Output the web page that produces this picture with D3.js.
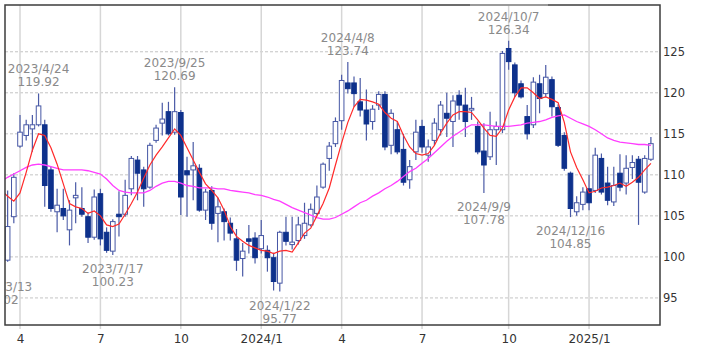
<!DOCTYPE html>
<html>
  <head>
    <meta charset="utf-8">
    <title>Weekly candlestick chart</title>
    <script src="https://d3js.org/d3.v7.min.js"></script>
    <style>
      body { margin: 0; background: #fff; }
      text { font-family: "DejaVu Sans", Verdana, sans-serif; font-size: 12px; }
    </style>
  </head>
  <body>
    <div id="chart"></div>
    <script>
      // first weekly candle (Monday), one candle per week after that
      var firstWeek = "2023-03-13";

      var opens = [104.0, 99.6, 104.9, 113.5, 114.8, 115.6, 116.1, 116.1, 110.6, 105.5,
        105.9, 103.3, 107.2, 105.9, 104.9, 102.4, 107.7, 103.0, 100.7, 105.2,
        105.2, 108.3, 111.8, 110.6, 108.5, 114.2, 116.3, 117.7, 115.2, 117.6,
        110.5, 110.6, 110.8, 105.7, 108.1, 105.3, 105.5, 104.1, 102.2, 99.8,
        102.2, 102.3, 101.0, 100.8, 99.9, 96.8, 103.0, 101.5, 102.0, 102.6,
        103.9, 105.3, 108.5, 112.0, 113.8, 116.6, 121.2, 121.2, 118.9, 117.9,
        116.5, 118.5, 119.8, 113.6, 115.5, 113.1, 109.4, 112.8, 115.9, 112.4,
        114.2, 115.5, 117.5, 116.5, 119.7, 118.5, 117.9, 115.9, 112.9, 112.2,
        115.5, 115.5, 125.4, 123.4, 121.1, 117.1, 116.1, 121.1, 119.9, 121.6,
        118.2, 114.8, 110.2, 105.5, 106.4, 108.3, 108.1, 112.0, 109.0, 106.7,
        110.2, 109.0, 110.9, 111.9, 107.9, 111.9];

      var highs = [105.0, 108.1, 110.2, 117.3, 116.7, 117.3, 119.92, 116.7, 111.0, 108.3,
        108.3, 106.9, 109.1, 108.5, 105.4, 108.2, 108.3, 103.6, 104.6, 108.0,
        109.4, 112.3, 112.3, 111.0, 113.9, 116.1, 118.8, 118.9, 120.69, 117.9,
        112.2, 114.0, 111.3, 108.3, 108.6, 107.2, 105.9, 104.8, 103.4, 101.7,
        103.9, 103.0, 104.5, 101.4, 100.5, 103.2, 104.9, 104.9, 104.9, 106.6,
        106.5, 108.7, 111.5, 114.0, 117.0, 122.2, 123.74, 122.0, 121.8, 120.4,
        118.5, 120.2, 120.2, 118.0, 116.5, 115.0, 111.8, 116.7, 116.7, 114.3,
        116.9, 119.0, 120.0, 119.7, 120.3, 120.6, 119.5, 116.5, 116.3, 117.7,
        116.5, 125.1, 126.34, 123.7, 121.5, 118.5, 121.9, 122.2, 123.4, 122.0,
        118.6, 115.2, 110.4, 107.4, 108.5, 110.0, 113.3, 112.6, 111.0, 111.0,
        112.5, 112.4, 112.4, 112.3, 112.4, 114.6];

      var lows = [98.02, 99.4, 104.1, 113.3, 114.2, 112.8, 115.9, 106.1, 105.5, 103.0,
        104.5, 101.4, 104.1, 104.9, 101.7, 102.1, 101.4, 100.5, 100.23, 102.5,
        104.9, 107.5, 106.9, 106.1, 108.3, 113.9, 114.8, 114.8, 114.9, 105.1,
        104.9, 106.9, 105.5, 104.5, 103.3, 101.8, 102.0, 102.0, 98.3, 97.6,
        100.4, 99.2, 100.4, 98.2, 95.9, 95.77, 101.4, 100.9, 101.5, 102.2,
        103.7, 105.1, 108.3, 110.5, 113.4, 115.5, 119.9, 118.3, 117.1, 114.2,
        115.5, 117.9, 113.0, 112.5, 112.5, 108.7, 108.3, 111.8, 112.7, 111.6,
        113.6, 114.8, 114.6, 113.4, 116.7, 114.6, 116.7, 112.5, 107.78, 111.8,
        111.2, 115.1, 122.8, 119.5, 119.3, 114.3, 115.7, 117.5, 119.5, 117.1,
        113.4, 110.5, 104.85, 105.0, 105.7, 105.7, 107.8, 107.6, 106.3, 106.2,
        108.0, 107.6, 109.5, 103.9, 107.7, 111.7];

      var closes = [99.6, 103.7, 109.7, 115.2, 116.1, 116.1, 118.4, 108.7, 105.9, 106.3,
        105.0, 105.7, 107.5, 105.2, 102.4, 107.3, 102.2, 100.8, 104.3, 104.9,
        107.5, 112.0, 110.2, 108.3, 113.6, 115.7, 116.8, 115.0, 117.7, 107.3,
        110.0, 111.1, 105.7, 107.9, 104.1, 106.1, 104.3, 102.9, 99.6, 100.7,
        101.9, 99.9, 102.6, 99.9, 97.0, 103.0, 101.9, 101.8, 103.9, 104.1,
        105.8, 107.3, 111.3, 113.5, 116.5, 121.5, 120.5, 119.9, 117.9, 116.2,
        118.0, 119.8, 113.4, 117.5, 112.8, 109.1, 111.0, 115.2, 113.4, 113.4,
        116.3, 118.5, 116.9, 119.0, 118.5, 116.5, 118.1, 112.8, 111.2, 115.5,
        115.9, 124.8, 123.8, 120.0, 119.5, 115.0, 121.3, 119.3, 121.9, 118.3,
        113.6, 110.8, 105.9, 106.6, 107.9, 106.6, 112.4, 107.9, 106.9, 108.7,
        108.5, 110.8, 111.5, 109.1, 112.0, 113.8];

      // short moving average (red)
      var maShort = [108.1, 107.4, 106.8, 107.8, 110.3, 113.0, 115.0, 114.8, 113.3, 111.3,
        108.9, 106.5, 106.1, 105.9, 105.3, 105.6, 105.0, 103.9, 103.7, 104.0,
        105.2, 106.5, 107.9, 109.6, 111.2, 112.4, 113.4, 114.5, 115.6, 114.8,
        113.3, 111.8, 110.3, 108.9, 108.1, 107.2, 105.7, 103.7, 102.5, 101.9,
        101.4, 101.1, 100.8, 100.7, 100.4, 100.7, 100.8, 100.6, 101.7, 102.9,
        103.5, 105.0, 106.5, 108.4, 111.2, 113.9, 116.4, 118.3, 119.2, 119.1,
        118.9, 118.6, 117.6, 116.9, 116.5, 114.8, 113.4, 112.6, 112.4, 112.6,
        113.6, 115.1, 116.3, 117.3, 117.7, 117.7, 117.6, 116.7, 115.7, 114.8,
        114.7, 115.7, 117.9, 119.5, 120.6, 120.6, 120.0, 119.3, 119.5, 119.2,
        118.8, 116.4, 112.8, 110.9, 109.4, 107.8, 108.0, 108.4, 108.5, 108.7,
        109.0, 108.6, 109.1, 109.7, 110.6, 111.4];

      // long moving average (magenta)
      var maLong = [109.2, 109.7, 110.1, 110.5, 110.9, 111.2, 111.3, 111.2, 111.0, 110.8,
        110.6, 110.6, 110.6, 110.6, 110.5, 110.3, 110.1, 109.5, 108.7, 108.1,
        107.9, 107.8, 107.8, 107.8, 108.1, 108.6, 109.0, 109.2, 109.2, 109.0,
        108.7, 108.6, 108.4, 108.4, 108.4, 108.3, 108.3, 108.1, 108.0, 107.9,
        107.8, 107.6, 107.5, 107.3, 107.0, 106.8, 106.4, 106.0, 105.7, 105.4,
        105.1, 104.8, 104.6, 104.6, 104.8, 105.2, 105.6, 106.1, 106.6, 106.9,
        107.4, 107.8, 108.3, 108.7, 109.2, 109.8, 110.4, 110.8, 111.4, 112.0,
        112.7, 113.4, 114.1, 114.7, 115.2, 115.7, 116.1, 116.1, 116.1, 116.0,
        115.9, 115.9, 115.9, 116.0, 116.1, 116.3, 116.4, 116.5, 116.7, 117.0,
        117.2, 117.3, 116.9, 116.5, 116.2, 115.9, 115.5, 115.0, 114.5, 114.2,
        114.0, 113.9, 113.8, 113.7, 113.7, 113.6];

      var tickDates = ["2023-04-03", "2023-07-03", "2023-10-02", "2024-01-01",
        "2024-04-01", "2024-07-01", "2024-10-07", "2025-01-06"];
      var tickLabels = ["4", "7", "10", "2024/1", "4", "7", "10", "2025/1"];
      var yTicks = [95, 100, 105, 110, 115, 120, 125];

      var highMarks = ["2023-04-24", "2023-09-25", "2024-04-08", "2024-10-07"];
      var lowMarks = ["2023-03-13", "2023-07-17", "2024-01-22", "2024-09-09", "2024-12-16"];

      var width = 709, height = 354;
      var pLeft = 5, pRight = 660, pTop = 5, pBottom = 325;

      var parse = d3.timeParse("%Y-%m-%d");
      var fmt = d3.timeFormat("%Y/%-m/%-d");
      var start = parse(firstWeek);

      var data = opens.map(function (o, i) {
        return {
          date: d3.timeWeek.offset(start, i),
          open: o, high: highs[i], low: lows[i], close: closes[i],
          ma1: maShort[i], ma2: maLong[i]
        };
      });
      var last = data[data.length - 1].date;

      var x = d3.scaleTime()
        .domain([start, last])
        .range([1.45, 650.9]);

      var y = d3.scaleLinear()
        .domain([91.7, 130.7])
        .range([pBottom, pTop]);

      var svg = d3.select("#chart").append("svg")
        .attr("width", width)
        .attr("height", height);

      svg.append("defs").append("clipPath")
        .attr("id", "plot")
        .append("rect")
        .attr("x", pLeft).attr("y", pTop)
        .attr("width", pRight - pLeft).attr("height", pBottom - pTop);

      // grid
      var grid = svg.append("g");
      grid.selectAll(".hg")
        .data(yTicks)
        .enter().append("line")
        .attr("x1", pLeft).attr("x2", pRight)
        .attr("y1", function (d) { return y(d); })
        .attr("y2", function (d) { return y(d); })
        .attr("stroke", "#c4c4c4")
        .attr("stroke-dasharray", "3,2");

      grid.selectAll(".vg")
        .data(tickDates)
        .enter().append("line")
        .attr("x1", function (d) { return x(parse(d)); })
        .attr("x2", function (d) { return x(parse(d)); })
        .attr("y1", pTop).attr("y2", pBottom + 4)
        .attr("stroke", "#d6d6d6")
        .attr("stroke-width", 1.5);

      // axes labels
      var xAxis = d3.axisBottom(x)
        .tickValues(tickDates.map(parse))
        .tickFormat(function (d, i) { return tickLabels[i]; })
        .tickSize(0)
        .tickPadding(9);
      var gx = svg.append("g")
        .attr("transform", "translate(0," + pBottom + ")")
        .call(xAxis);
      gx.select(".domain").remove();
      gx.selectAll("text")
        .attr("fill", "#333")
        .style("font-size", "12px")
        .style("font-family", "DejaVu Sans");

      var yAxis = d3.axisRight(y)
        .tickValues(yTicks)
        .tickSize(0)
        .tickPadding(3);
      var gy = svg.append("g")
        .attr("transform", "translate(" + pRight + ",0)")
        .call(yAxis);
      gy.select(".domain").remove();
      gy.selectAll("text")
        .attr("fill", "#333")
        .style("font-size", "11.5px")
        .style("font-family", "DejaVu Sans");

      var plot = svg.append("g").attr("clip-path", "url(#plot)");

      // candles
      var bw = 4.6;
      var candles = plot.selectAll(".candle")
        .data(data)
        .enter().append("g");

      candles.append("line")
        .attr("x1", function (d) { return x(d.date); })
        .attr("x2", function (d) { return x(d.date); })
        .attr("y1", function (d) { return y(d.high); })
        .attr("y2", function (d) { return y(d.low); })
        .attr("stroke", "#4a5aa6")
        .attr("stroke-width", 1.2);

      candles.append("rect")
        .attr("x", function (d) { return x(d.date) - bw / 2; })
        .attr("y", function (d) { return y(Math.max(d.open, d.close)); })
        .attr("width", bw)
        .attr("height", function (d) {
          return Math.max(1, Math.abs(y(d.open) - y(d.close)));
        })
        .attr("fill", function (d) { return d.close > d.open ? "#fff" : "#0e318c"; })
        .attr("stroke", function (d) { return d.close > d.open ? "#4657a5" : "#0e318c"; })
        .attr("stroke-width", 1);

      // moving averages
      var line1 = d3.line()
        .x(function (d) { return x(d.date); })
        .y(function (d) { return y(d.ma1); });
      var line2 = d3.line()
        .x(function (d) { return x(d.date); })
        .y(function (d) { return y(d.ma2); });

      plot.append("path")
        .datum(data)
        .attr("d", line2)
        .attr("fill", "none")
        .attr("stroke", "#ff3cff")
        .attr("stroke-width", 1.3);

      plot.append("path")
        .datum(data)
        .attr("d", line1)
        .attr("fill", "none")
        .attr("stroke", "#ff2a2a")
        .attr("stroke-width", 1.2);

      // high / low notes
      var byDate = {};
      data.forEach(function (d) { byDate[fmt(d.date)] = d; });

      var notes = plot.append("g")
        .attr("fill", "#8a8a8a")
        .attr("text-anchor", "middle");

      highMarks.forEach(function (s) {
        var d = byDate[fmt(parse(s))];
        var t = notes.append("text")
          .attr("x", x(d.date))
          .attr("y", y(d.high) - 20);
        t.append("tspan").attr("x", x(d.date)).text(fmt(d.date));
        t.append("tspan").attr("x", x(d.date)).attr("dy", 13).text(d.high.toFixed(2));
      });

      lowMarks.forEach(function (s) {
        var d = byDate[fmt(parse(s))];
        var t = notes.append("text")
          .attr("x", x(d.date))
          .attr("y", y(d.low) + 18);
        t.append("tspan").attr("x", x(d.date)).text(fmt(d.date));
        t.append("tspan").attr("x", x(d.date)).attr("dy", 13).text(d.low.toFixed(2));
      });

      // frame
      svg.append("rect")
        .attr("x", pLeft).attr("y", pTop)
        .attr("width", pRight - pLeft).attr("height", pBottom - pTop)
        .attr("fill", "none")
        .attr("stroke", "#3c3c3c")
        .attr("stroke-width", 1.5);

      svg.append("line")
        .attr("x1", 470).attr("x2", 548)
        .attr("y1", pTop).attr("y2", pTop)
        .attr("stroke", "#a8a8a8")
        .attr("stroke-width", 1.5);
    </script>
  </body>
</html>
